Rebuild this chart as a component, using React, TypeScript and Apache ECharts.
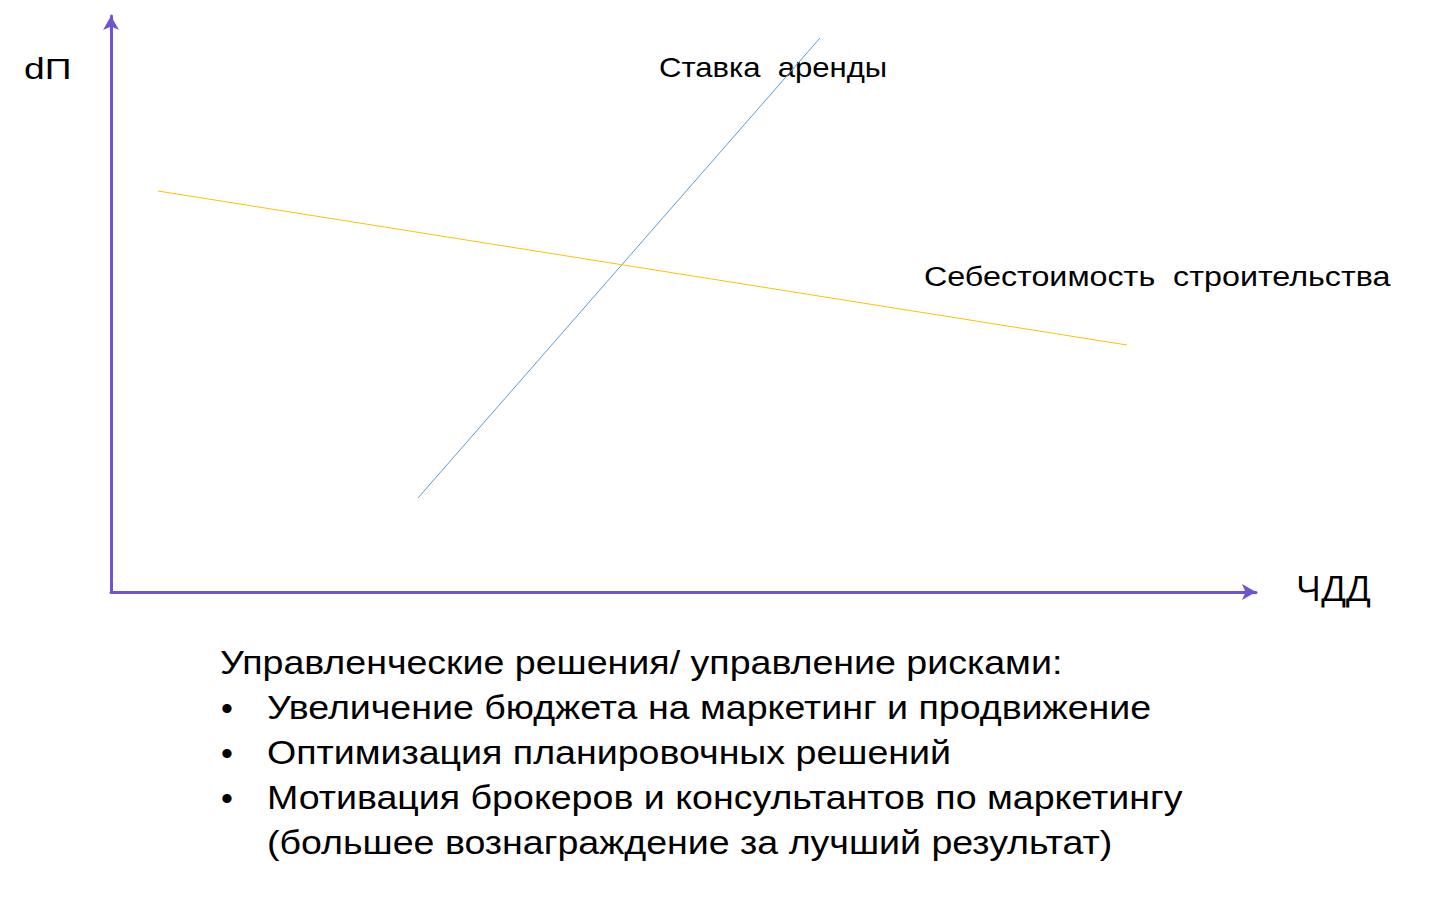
import React, { useEffect, useRef } from "react";
import * as echarts from "echarts";

const rentLine: [number, number][] = [
  [26.81, 16.32],
  [61.92, 96.18],
];
const costLine: [number, number][] = [
  [4.1, 69.62],
  [88.73, 42.88],
];
const seriesNames = ["Ставка аренды", "Себестоимость строительства"];
const axisNames = ["ЧДД", "dП"];
const noteTitle = "Управленческие решения/ управление рисками:";
const noteBullets = [
  "Увеличение бюджета на маркетинг и продвижение",
  "Оптимизация планировочных решений",
  "Мотивация брокеров и консультантов по маркетингу",
];
const noteTail = "(большее вознаграждение за лучший результат)";

const PURPLE = "#7152d1";
const FONT = "'Liberation Sans', Arial, sans-serif";

export default function App() {
  const ref = useRef<HTMLDivElement>(null);
  useEffect(() => {
    if (!ref.current) return;
    const chart = echarts.init(ref.current, undefined, { renderer: "svg" });
    const axisCommon = {
      type: "value" as const,
      min: 0,
      max: 100,
      axisLine: {
        show: true,
        symbol: ["none", "arrow"],
        symbolSize: [12, 14],
        lineStyle: { color: PURPLE, width: 3 },
      },
      axisTick: { show: false },
      axisLabel: { show: false },
      splitLine: { show: false },
    };
    const txt = (text: string, x: number, y: number, size: number, sx: number, family = FONT) => ({
      type: "text",
      x,
      y,
      scaleX: sx,
      style: {
        text,
        fill: "#000",
        fontSize: size,
        fontFamily: family,
        align: "left",
        verticalAlign: "middle",
      },
    });
    const lines = [noteTitle, ...noteBullets, noteTail];
    const ys = [663, 708, 753, 798, 843];
    const graphics: any[] = [
      txt(axisNames[1], 24, 68, 30, 1.24),
      txt(axisNames[0], 1296, 587, 34, 1.07, "'Open Sans', 'Noto Sans', sans-serif"),
      txt(seriesNames[0].replace(" ", "  "), 659, 68, 27, 1.15),
      txt(seriesNames[1].replace(" ", "  "), 924, 276, 27, 1.195),
    ];
    lines.forEach((t, i) => {
      const x = i === 0 ? 220 : 267;
      graphics.push(txt(t, x, ys[i], 34, 1.105));
      if (i >= 1 && i <= 3) {
        graphics.push(txt("•", 221, ys[i], 34, 1));
      }
    });
    chart.setOption({
      animation: false,
      grid: { left: 111, right: 176, top: 16, bottom: 328, containLabel: false },
      xAxis: axisCommon,
      yAxis: axisCommon,
      series: [
        {
          name: seriesNames[0],
          type: "line",
          data: rentLine,
          showSymbol: false,
          symbol: "none",
          lineStyle: { color: "#5b9bd5", width: 1 },
        },
        {
          name: seriesNames[1],
          type: "line",
          data: costLine,
          showSymbol: false,
          symbol: "none",
          lineStyle: { color: "#ffc000", width: 1 },
        },
      ],
      graphic: graphics,
    });
    return () => chart.dispose();
  }, []);
  return (
    <div
      ref={ref}
      style={{ position: "fixed", left: 0, top: 0, width: 1432, height: 920, background: "#fff" }}
    />
  );
}
